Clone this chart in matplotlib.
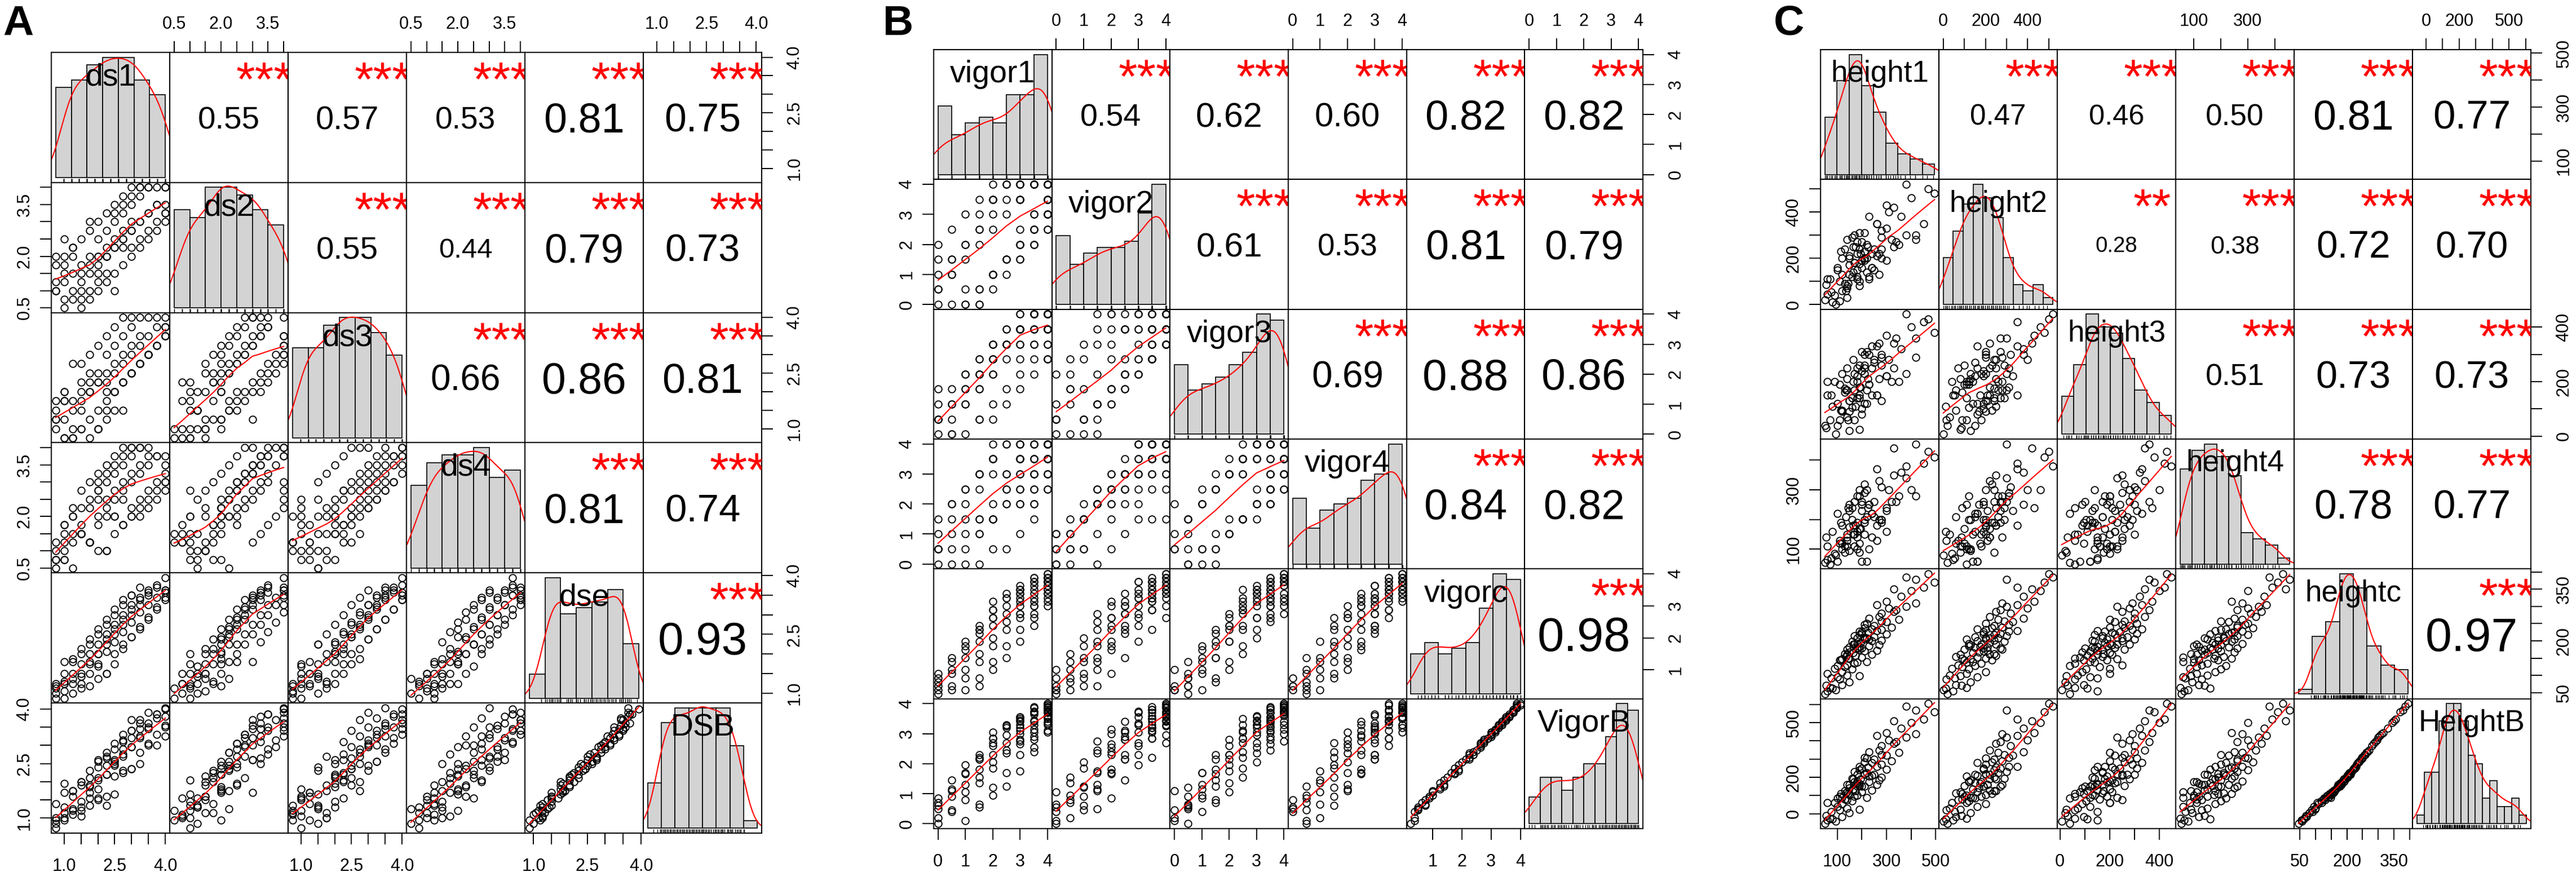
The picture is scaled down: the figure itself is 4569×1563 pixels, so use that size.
import numpy as np
import matplotlib
matplotlib.use("Agg")
import matplotlib.pyplot as plt
from matplotlib.transforms import offset_copy

plt.rcParams['font.family'] = ['Liberation Sans', 'DejaVu Sans']

# ---------------- panel A : disease scores ----------------
a_names = ['ds1', 'ds2', 'ds3', 'ds4', 'dse', 'DSB']
ds1 = [0.75, 1.0, 0.75, 1.25, 0.75, 1.0, 1.5, 0.75,
       1.0, 1.5, 0.75, 1.25, 2.0, 1.0, 1.25, 1.75,
       1.5, 1.0, 2.25, 1.25, 1.75, 1.0, 2.0, 1.5,
       1.75, 2.5, 1.25, 1.5, 2.0, 1.0, 2.25, 1.75,
       2.0, 1.5, 2.5, 1.25, 2.75, 2.0, 1.75, 2.25,
       2.25, 1.75, 2.75, 2.0, 3.0, 1.5, 2.5, 2.25,
       2.5, 2.0, 3.0, 2.25, 3.25, 1.75, 2.75, 2.5,
       2.75, 2.25, 3.25, 2.5, 3.5, 2.0, 3.0, 2.75,
       3.0, 2.5, 3.5, 2.75, 3.75, 2.25, 3.25, 3.0,
       3.25, 2.75, 3.75, 3.0, 4.0, 2.5, 3.5, 3.25,
       3.5, 3.0, 4.0, 3.25, 4.0, 2.75, 3.75, 3.5,
       3.75, 3.25, 4.0, 3.5, 4.0, 3.0, 4.0, 3.75]
ds2 = [1.0, 0.5, 1.25, 0.75, 1.0, 1.5, 0.5, 2.0,
       1.25, 0.75, 1.75, 1.0, 1.5, 0.75, 2.25, 1.0,
       1.0, 2.0, 1.25, 1.5, 0.75, 1.75, 2.0, 1.25,
       1.5, 1.0, 2.25, 1.75, 1.25, 2.5, 1.5, 2.0,
       1.75, 2.5, 1.5, 2.0, 2.25, 1.0, 3.0, 2.0,
       2.0, 2.75, 1.75, 2.5, 2.25, 1.5, 3.25, 2.0,
       2.25, 3.0, 2.0, 2.75, 2.5, 1.75, 3.5, 2.25,
       2.5, 3.25, 2.25, 3.0, 2.75, 2.0, 3.75, 2.5,
       2.75, 3.5, 2.5, 3.25, 3.0, 2.25, 4.0, 2.75,
       3.0, 3.75, 2.75, 3.5, 3.25, 2.5, 4.0, 3.0,
       3.25, 4.0, 3.0, 3.75, 3.5, 2.75, 4.0, 3.25,
       3.5, 4.0, 3.25, 4.0, 4.0, 3.0, 4.0, 3.5]
ds3 = [1.0, 0.75, 1.5, 0.75, 1.75, 0.75, 1.0, 1.25,
       2.0, 1.0, 1.25, 0.75, 1.0, 1.75, 1.5, 0.75,
       2.0, 1.25, 1.5, 1.0, 2.25, 1.75, 1.0, 1.5,
       2.5, 1.5, 1.75, 2.25, 1.0, 2.0, 1.25, 2.0,
       2.5, 1.75, 2.0, 2.75, 1.5, 2.25, 1.25, 2.0,
       3.0, 2.0, 2.25, 1.5, 2.5, 2.75, 2.0, 2.25,
       3.25, 2.25, 2.5, 1.75, 2.75, 3.0, 2.25, 2.5,
       3.5, 2.5, 2.75, 2.0, 3.0, 3.25, 2.5, 2.75,
       3.75, 2.75, 3.0, 2.25, 3.25, 3.5, 2.75, 3.0,
       4.0, 3.0, 3.25, 2.5, 3.5, 3.75, 3.0, 3.25,
       4.0, 3.25, 3.5, 2.75, 3.75, 4.0, 3.25, 3.5,
       4.0, 3.5, 3.75, 3.0, 4.0, 4.0, 3.5, 3.75]
ds4 = [0.75, 1.25, 0.5, 1.25, 1.0, 1.0, 1.5, 0.75,
       0.75, 1.75, 1.25, 2.0, 1.0, 1.5, 0.5, 1.25,
       1.5, 1.75, 1.0, 2.25, 1.25, 0.75, 2.0, 1.5,
       1.25, 2.0, 2.0, 1.5, 2.5, 1.75, 1.0, 2.25,
       1.75, 2.25, 2.0, 1.5, 2.5, 2.75, 1.25, 2.0,
       2.25, 2.5, 1.75, 3.0, 2.0, 2.75, 1.5, 2.5,
       2.5, 2.75, 2.25, 3.25, 2.0, 3.0, 1.75, 2.75,
       2.75, 3.0, 2.5, 3.5, 2.25, 3.25, 2.0, 3.0,
       3.0, 3.25, 2.75, 3.75, 2.5, 3.5, 2.25, 3.25,
       3.25, 3.5, 3.0, 4.0, 2.75, 3.75, 2.5, 3.5,
       3.5, 3.75, 3.25, 4.0, 3.0, 4.0, 2.75, 3.75,
       3.75, 4.0, 3.5, 4.0, 3.75, 4.0, 3.0, 3.75]
dse = [0.88, 0.88, 1.0, 1.0, 1.13, 1.06, 1.13, 1.19,
       1.25, 1.25, 1.25, 1.25, 1.38, 1.25, 1.38, 1.19,
       1.5, 1.5, 1.5, 1.5, 1.5, 1.31, 1.75, 1.44,
       1.75, 1.75, 1.81, 1.75, 1.69, 1.81, 1.5, 2.0,
       2.0, 2.0, 2.0, 1.88, 2.25, 2.0, 1.81, 2.06,
       2.38, 2.25, 2.13, 2.25, 2.44, 2.13, 2.31, 2.25,
       2.63, 2.5, 2.44, 2.5, 2.63, 2.38, 2.56, 2.5,
       2.88, 2.75, 2.69, 2.75, 2.88, 2.63, 2.81, 2.75,
       3.13, 3.0, 2.94, 3.0, 3.13, 2.88, 3.06, 3.0,
       3.38, 3.25, 3.19, 3.25, 3.38, 3.13, 3.25, 3.25,
       3.56, 3.5, 3.44, 3.44, 3.56, 3.38, 3.44, 3.5,
       3.75, 3.69, 3.63, 3.63, 3.94, 3.5, 3.63, 3.69]
dsb = [0.72, 0.95, 0.85, 1.1, 1.0, 1.15, 1.2, 0.95,
       1.3, 1.05, 1.4, 1.2, 1.5, 1.0, 1.25, 1.35,
       1.45, 1.7, 1.35, 1.6, 1.55, 1.15, 1.8, 1.3,
       1.9, 1.65, 1.75, 2.0, 1.55, 1.95, 1.6, 1.85,
       2.1, 1.9, 2.15, 1.75, 2.3, 2.05, 1.7, 2.2,
       2.45, 2.1, 2.25, 2.4, 2.35, 2.0, 2.5, 2.2,
       2.55, 2.6, 2.35, 2.7, 2.5, 2.3, 2.75, 2.45,
       2.9, 2.65, 2.8, 2.6, 3.0, 2.55, 2.95, 2.7,
       3.2, 2.9, 3.05, 3.1, 3.0, 2.8, 3.25, 2.95,
       3.45, 3.15, 3.3, 3.4, 3.25, 3.05, 3.5, 3.2,
       3.6, 3.4, 3.55, 3.7, 3.5, 3.3, 3.75, 3.45,
       3.85, 3.6, 3.8, 3.9, 4.0, 3.7, 4.03, 3.85]
a_cor = [[0.55, 0.57, 0.53, 0.81, 0.75], [0.55, 0.44, 0.79, 0.73],
         [0.66, 0.86, 0.81], [0.81, 0.74], [0.93]]
a_star = [['***'] * 5, ['***'] * 4, ['***'] * 3, ['***'] * 2, ['***']]
a_ticks = [[1.0, 1.5, 2.0, 2.5, 3.0, 3.5, 4.0],
           [0.5, 1.0, 1.5, 2.0, 2.5, 3.0, 3.5, 4.0],
           [1.0, 1.5, 2.0, 2.5, 3.0, 3.5, 4.0],
           [0.5, 1.0, 1.5, 2.0, 2.5, 3.0, 3.5, 4.0],
           [1.0, 1.5, 2.0, 2.5, 3.0, 3.5, 4.0],
           [1.0, 1.5, 2.0, 2.5, 3.0, 3.5, 4.0]]
a_tlab = [['1.0', '', '', '2.5', '', '', '4.0'],
          ['0.5', '', '', '2.0', '', '', '3.5', ''],
          ['1.0', '', '', '2.5', '', '', '4.0'],
          ['0.5', '', '', '2.0', '', '', '3.5', ''],
          ['1.0', '', '', '2.5', '', '', '4.0'],
          ['1.0', '', '', '2.5', '', '', '4.0']]
a_bins = [[0.5, 1.0, 1.5, 2.0, 2.5, 3.0, 3.5, 4.0]] * 5 + \
         [[0.5, 1.0, 1.5, 2.0, 2.5, 3.0, 3.5, 4.0, 4.5]]

# ---------------- panel B : vigor ----------------
b_names = ['vigor1', 'vigor2', 'vigor3', 'vigor4', 'vigorc', 'VigorB']
vigor1 = [0, 0.5, 0, 1.0, 0, 0.5, 1.5, 0,
          0.5, 1.0, 0, 1.5, 0.5, 2.0, 1.0, 0,
          1.0, 1.5, 0.5, 2.0, 1.0, 2.5, 1.5, 0.5,
          1.5, 2.0, 1.0, 2.5, 1.5, 3.0, 2.0, 1.0,
          2.0, 2.5, 1.5, 3.0, 2.0, 3.5, 2.5, 1.5,
          2.5, 3.0, 2.0, 3.5, 2.0, 3.5, 3.0, 1.5,
          3.0, 3.0, 2.5, 4.0, 2.5, 3.5, 3.0, 2.0,
          3.0, 3.5, 2.5, 4.0, 3.0, 4.0, 3.5, 2.0,
          3.5, 3.5, 3.0, 4.0, 3.0, 4.0, 3.5, 2.5,
          3.5, 4.0, 3.0, 4.0, 3.5, 4.0, 4.0, 3.0,
          4.0, 4.0, 3.5, 4.0, 3.5, 4.0, 4.0, 3.0,
          4.0, 4.0, 4.0, 3.5, 4.0, 4.0, 4.0, 4.0]
vigor2 = [0.5, 0, 1.5, 0, 0, 1.0, 0, 0.5,
          1.0, 0.5, 2.0, 0, 1.5, 0.5, 0, 1.0,
          1.5, 0.5, 2.5, 1.0, 2.0, 1.0, 0.5, 1.5,
          2.0, 1.0, 3.0, 1.5, 2.5, 1.5, 1.0, 2.0,
          2.5, 1.5, 3.5, 2.0, 3.0, 2.0, 1.5, 2.5,
          3.0, 2.0, 4.0, 2.5, 3.5, 2.0, 1.5, 3.0,
          3.5, 2.5, 4.0, 2.5, 3.5, 2.5, 2.0, 3.5,
          3.5, 3.0, 4.0, 3.0, 4.0, 2.5, 2.0, 3.5,
          4.0, 3.0, 3.5, 3.5, 4.0, 3.0, 2.5, 4.0,
          4.0, 3.5, 4.0, 3.0, 4.0, 3.5, 3.0, 3.5,
          4.0, 3.5, 4.0, 3.5, 4.0, 4.0, 3.0, 4.0,
          4.0, 4.0, 3.5, 4.0, 4.0, 4.0, 3.5, 4.0]
vigor3 = [0, 1.0, 0.5, 0, 0.5, 0, 0.5, 1.5,
          0.5, 1.5, 1.0, 0.5, 0, 1.0, 2.0, 0.5,
          1.0, 2.0, 1.5, 0.5, 1.0, 1.5, 2.5, 1.0,
          1.5, 2.5, 2.0, 1.0, 1.5, 2.0, 3.0, 1.5,
          2.0, 3.0, 2.5, 1.5, 2.0, 2.5, 3.5, 2.0,
          2.5, 3.5, 3.0, 2.0, 2.5, 3.0, 4.0, 2.0,
          2.5, 3.5, 3.0, 2.5, 3.0, 3.5, 4.0, 2.5,
          3.0, 3.5, 3.5, 2.5, 3.0, 3.5, 4.0, 3.0,
          3.0, 4.0, 3.5, 2.5, 3.5, 3.5, 4.0, 3.0,
          3.5, 4.0, 3.5, 3.0, 4.0, 3.5, 4.0, 3.5,
          3.5, 4.0, 4.0, 3.5, 4.0, 3.0, 4.0, 3.5,
          4.0, 4.0, 4.0, 4.0, 3.5, 4.0, 3.5, 4.0]
vigor4 = [1.0, 0, 0, 0.5, 0.5, 0.5, 0, 0.5,
          1.5, 0, 0.5, 1.0, 2.0, 0.5, 1.0, 1.5,
          2.0, 1.0, 1.0, 1.5, 2.5, 0.5, 1.5, 2.0,
          2.5, 1.5, 1.5, 2.0, 3.0, 1.0, 2.0, 2.5,
          3.0, 2.0, 1.5, 2.5, 3.5, 1.5, 2.5, 3.0,
          3.0, 2.0, 1.5, 3.0, 3.5, 2.0, 2.5, 3.0,
          3.5, 2.0, 2.5, 3.0, 4.0, 2.5, 3.0, 3.5,
          4.0, 2.0, 3.0, 3.5, 3.5, 2.5, 3.0, 4.0,
          3.5, 2.5, 3.0, 4.0, 3.5, 3.0, 3.5, 4.0,
          4.0, 3.0, 3.5, 4.0, 3.5, 2.5, 4.0, 4.0,
          4.0, 3.5, 3.0, 4.0, 4.0, 3.5, 4.0, 4.0,
          4.0, 3.5, 4.0, 4.0, 4.0, 4.0, 4.0, 3.5]
vigorc = [0.38, 0.38, 0.5, 0.38, 0.25, 0.5, 0.5, 0.63,
          0.88, 0.75, 0.88, 0.75, 1.0, 1.0, 1.0, 0.75,
          1.38, 1.25, 1.38, 1.25, 1.63, 1.38, 1.5, 1.25,
          1.88, 1.75, 1.88, 1.75, 2.13, 1.88, 2.0, 1.75,
          2.38, 2.25, 2.25, 2.25, 2.63, 2.38, 2.5, 2.25,
          2.75, 2.63, 2.63, 2.75, 2.88, 2.63, 2.75, 2.38,
          3.13, 2.75, 3.0, 3.0, 3.25, 3.0, 3.0, 2.88,
          3.38, 3.0, 3.25, 3.25, 3.38, 3.13, 3.13, 3.13,
          3.5, 3.25, 3.25, 3.5, 3.5, 3.38, 3.38, 3.38,
          3.75, 3.63, 3.5, 3.5, 3.75, 3.38, 3.75, 3.5,
          3.88, 3.75, 3.63, 3.75, 3.88, 3.63, 3.75, 3.63,
          4.0, 3.88, 3.88, 3.88, 3.88, 4.0, 3.75, 3.88]
vigorb = [0.2, 0.4, 0.5, 0.1, 0.0, 0.45, 0.55, 0.7,
          0.9, 0.8, 0.85, 0.65, 1.1, 0.95, 1.05, 0.6,
          1.3, 1.35, 1.45, 1.2, 1.7, 1.25, 1.55, 1.15,
          1.8, 1.85, 1.95, 1.7, 2.15, 1.75, 2.05, 1.65,
          2.3, 2.35, 2.2, 2.3, 2.6, 2.4, 2.45, 2.15,
          2.7, 2.65, 2.7, 2.8, 2.85, 2.55, 2.75, 2.3,
          3.1, 2.8, 2.95, 3.05, 3.2, 2.9, 3.0, 2.85,
          3.3, 3.05, 3.25, 3.3, 3.4, 3.1, 3.15, 3.05,
          3.45, 3.3, 3.2, 3.5, 3.55, 3.35, 3.4, 3.3,
          3.7, 3.6, 3.45, 3.55, 3.75, 3.4, 3.7, 3.5,
          3.85, 3.8, 3.65, 3.7, 3.9, 3.6, 3.75, 3.55,
          4.0, 3.95, 3.9, 3.85, 3.9, 3.95, 3.8, 4.0]
b_cor = [[0.54, 0.62, 0.60, 0.82, 0.82], [0.61, 0.53, 0.81, 0.79],
         [0.69, 0.88, 0.86], [0.84, 0.82], [0.98]]
b_star = [['***'] * 5, ['***'] * 4, ['***'] * 3, ['***'] * 2, ['***']]
b_ticks = [[0, 1, 2, 3, 4]] * 4 + [[1, 2, 3, 4], [0, 1, 2, 3, 4]]
b_tlab = [['0', '1', '2', '3', '4']] * 4 + [['1', '2', '3', '4'], ['0', '1', '2', '3', '4']]
b_bins = [[0, 0.5, 1.0, 1.5, 2.0, 2.5, 3.0, 3.5, 4.0]] * 5 + \
         [[0, 0.4, 0.8, 1.2, 1.6, 2.0, 2.4, 2.8, 3.2, 3.6, 4.0]]

# ---------------- panel C : height ----------------
c_names = ['height1', 'height2', 'height3', 'height4', 'heightc', 'HeightB']
height1 = [50, 95, 70, 120, 60, 150, 80, 55,
           100, 140, 60, 190, 120, 75, 110, 160,
           130, 170, 90, 220, 115, 140, 100, 180,
           150, 110, 200, 135, 240, 120, 175, 145,
           165, 210, 130, 190, 150, 260, 140, 180,
           180, 150, 230, 165, 200, 140, 270, 190,
           195, 240, 160, 210, 180, 280, 170, 220,
           210, 170, 250, 190, 300, 200, 230, 180,
           225, 280, 190, 240, 320, 210, 260, 200,
           250, 300, 220, 280, 350, 230, 270, 210,
           280, 340, 310, 380, 260, 420, 300, 330,
           360, 400, 450, 330, 495, 380, 420, 470]
height2 = [20, 0, 110, 60, 45, 130, 10, 85,
           160, 30, 110, 80, 200, 55, 15, 120,
           90, 180, 40, 140, 230, 70, 150, 110,
           200, 100, 160, 60, 220, 130, 250, 90,
           140, 190, 240, 100, 170, 210, 80, 270,
           150, 210, 120, 250, 190, 280, 130, 175,
           220, 160, 290, 200, 120, 240, 180, 260,
           200, 300, 150, 240, 190, 270, 110, 220,
           250, 200, 310, 160, 280, 230, 350, 190,
           240, 330, 200, 290, 260, 380, 220, 310,
           320, 270, 400, 300, 350, 280, 430, 250,
           380, 460, 350, 420, 480, 520, 300, 500]
height3 = [40, 7, 60, 95, 150, 20, 110, 30,
           120, 70, 200, 25, 90, 150, 60, 105,
           160, 60, 200, 120, 95, 250, 40, 140,
           130, 190, 80, 170, 150, 230, 110, 60,
           200, 120, 175, 260, 90, 150, 210, 140,
           220, 130, 190, 280, 100, 170, 210, 150,
           180, 250, 140, 300, 200, 130, 230, 170,
           230, 170, 270, 140, 220, 310, 190, 250,
           210, 290, 180, 330, 200, 260, 150, 240,
           280, 220, 310, 260, 200, 300, 340, 250,
           300, 360, 280, 230, 330, 290, 370, 250,
           320, 400, 420, 340, 380, 448, 360, 430]
height4 = [55, 80, 50, 120, 65, 95, 160, 140,
           60, 150, 110, 90, 180, 70, 130, 200,
           110, 150, 85, 60, 190, 130, 220, 100,
           175, 120, 60, 210, 140, 100, 180, 240,
           150, 200, 90, 170, 250, 130, 110, 190,
           160, 230, 100, 180, 260, 140, 200, 120,
           170, 220, 240, 150, 280, 190, 110, 210,
           190, 260, 210, 300, 160, 230, 250, 140,
           240, 200, 280, 220, 260, 320, 180, 250,
           260, 230, 300, 200, 280, 250, 330, 290,
           310, 260, 300, 340, 370, 280, 240, 350,
           360, 300, 390, 440, 410, 380, 455, 430]
heightc = [46, 58, 65, 72, 55, 80, 62, 70,
           95, 100, 105, 98, 110, 92, 88, 118,
           125, 135, 120, 140, 145, 130, 128, 138,
           150, 145, 152, 155, 160, 148, 158, 150,
           165, 170, 162, 175, 168, 172, 160, 178,
           180, 182, 185, 190, 178, 176, 188, 183,
           195, 200, 198, 205, 192, 202, 190, 208,
           210, 215, 212, 218, 220, 222, 205, 208,
           225, 232, 228, 235, 240, 238, 230, 226,
           245, 255, 250, 258, 262, 265, 270, 248,
           280, 290, 295, 300, 305, 310, 315, 285,
           330, 345, 355, 350, 370, 385, 378, 395]
heightb = [-55, -40, -25, -15, -35, 5, -30, -10,
           40, 30, 60, 25, 55, 10, 20, 70,
           80, 95, 60, 90, 110, 75, 85, 100,
           105, 95, 120, 115, 130, 90, 125, 110,
           135, 150, 125, 155, 140, 160, 120, 150,
           170, 160, 175, 190, 150, 160, 185, 165,
           190, 210, 195, 215, 180, 200, 175, 225,
           220, 230, 215, 240, 245, 250, 205, 215,
           255, 270, 260, 280, 290, 285, 260, 250,
           300, 320, 305, 325, 335, 340, 350, 310,
           375, 395, 405, 420, 430, 440, 445, 385,
           470, 500, 520, 510, 560, 590, 570, 605]
c_cor = [[0.47, 0.46, 0.50, 0.81, 0.77], [0.28, 0.38, 0.72, 0.70],
         [0.51, 0.73, 0.73], [0.78, 0.77], [0.97]]
c_star = [['***'] * 5, ['**', '***', '***', '***'], ['***'] * 3, ['***'] * 2, ['***']]
c_ticks = [[100, 200, 300, 400, 500],
           [0, 100, 200, 300, 400, 500],
           [0, 100, 200, 300, 400],
           [100, 200, 300, 400],
           [50, 100, 150, 200, 250, 300, 350, 400],
           [0, 100, 200, 300, 400, 500, 600]]
c_tlab = [['100', '', '300', '', '500'],
          ['0', '', '200', '', '400', ''],
          ['0', '', '200', '', '400'],
          ['100', '', '300', ''],
          ['50', '', '', '200', '', '', '350', ''],
          ['0', '', '200', '', '', '500', '']]
c_bins = [[50, 100, 150, 200, 250, 300, 350, 400, 450, 500],
          [0, 50, 100, 150, 200, 250, 300, 350, 400, 450, 500, 550],
          [0, 50, 100, 150, 200, 250, 300, 350, 400, 450],
          [50, 100, 150, 200, 250, 300, 350, 400, 450, 500],
          [0, 50, 100, 150, 200, 250, 300, 350, 400],
          [-100, -50, 0, 50, 100, 150, 200, 250, 300, 350, 400, 450, 500, 550, 600, 650]]

W, H, DPI = 4569, 1563, 100
PT = 72.0 / DPI
fig = plt.figure(figsize=(W / DPI, H / DPI), dpi=DPI)
fig.patch.set_facecolor('white')


def lowess(x, y, f=2 / 3, steps=3):
    x = np.asarray(x, float)
    y = np.asarray(y, float)
    o = np.argsort(x, kind='mergesort')
    x, y = x[o], y[o]
    n = len(x)
    ns = max(min(int(f * n + 1e-7), n), 2)
    rob = np.ones(n)
    fit = np.zeros(n)
    for it in range(steps + 1):
        for i in range(n):
            d = np.abs(x - x[i])
            h = np.sort(d)[ns - 1]
            if h <= 0:
                w = (d == 0).astype(float)
            else:
                u = d / h
                w = np.where(u < 1, (1 - u ** 3) ** 3, 0.0)
            w = w * rob
            sw = w.sum()
            if sw <= 0:
                fit[i] = y[i]
                continue
            xm = (w * x).sum() / sw
            ym = (w * y).sum() / sw
            sxx = (w * (x - xm) ** 2).sum()
            b = (w * (x - xm) * (y - ym)).sum() / sxx if sxx > 1e-10 else 0.0
            fit[i] = ym + b * (x[i] - xm)
        res = y - fit
        m = np.median(np.abs(res))
        if m < 1e-7 * (np.mean(np.abs(y)) + 1e-9):
            break
        u = res / (6 * m)
        rob = np.where(np.abs(u) < 1, (1 - u ** 2) ** 2, 0.0)
    return x, fit


def kde(x):
    x = np.asarray(x, float)
    n = len(x)
    sd = x.std(ddof=1)
    q75, q25 = np.percentile(x, [75, 25])
    lo = min(sd, (q75 - q25) / 1.34)
    if lo <= 0:
        lo = sd
    bw = 0.9 * lo * n ** -0.2
    g = np.linspace(x.min() - 3 * bw, x.max() + 3 * bw, 512)
    d = np.exp(-0.5 * ((g[:, None] - x[None, :]) / bw) ** 2).sum(1) / (n * bw * np.sqrt(2 * np.pi))
    return g, d


def rhist(x, edges):
    x = np.asarray(x, float)
    e = np.asarray(edges, float)
    idx = np.clip(np.searchsorted(e, x, side='left') - 1, 0, len(e) - 2)
    counts = np.bincount(idx, minlength=len(e) - 1)
    return counts / (len(x) * np.diff(e))


def baseline_text(ax, x, y, s, size, **kw):
    tr = offset_copy(ax.transAxes, fig=fig, y=-0.358 * size, units='points')
    ax.text(x, y, s, fontsize=size, ha='center', va='baseline', transform=tr, **kw)


def pairs_panel(cols, names, ticks, tlabs, bins, cors, stars, box, lab_px):
    left, top, right, bottom = box
    n = len(cols)
    cw = (right - left) / n
    ch = (bottom - top) / n
    lims = []
    for c in cols:
        lo, hi = min(c), max(c)
        lims.append((lo - 0.04 * (hi - lo), hi + 0.04 * (hi - lo)))
    base_px = 0.8 * cw / 1.946
    tick_kw = dict(length=14.4, width=1.4, labelsize=22, direction='out', colors='black')
    for i in range(n):
        for j in range(n):
            ax = fig.add_axes([(left + j * cw) / W, 1 - (top + (i + 1) * ch) / H, cw / W, ch / H])
            for s in ax.spines.values():
                s.set_linewidth(1.5)
            ax.tick_params(which='both', bottom=False, top=False, left=False, right=False,
                           labelbottom=False, labeltop=False, labelleft=False, labelright=False)
            if i == j:
                x = cols[i]
                e = bins[i]
                dens = rhist(x, e)
                ax.bar(e[:-1], dens, width=np.diff(e), align='edge', color='#D3D3D3',
                       edgecolor='black', linewidth=1.2)
                gx, gy = kde(x)
                ax.plot(gx, gy, color='red', lw=1.5)
                span = e[-1] - e[0]
                ymax = dens.max()
                ax.set_xlim(e[0] - 0.04 * span, e[-1] + 0.04 * span)
                ax.set_ylim(-0.04 * ymax, 1.04 * ymax)
                y0 = -0.04 * ymax
                ax.vlines(x, y0, y0 + 0.03 * 1.08 * ymax, color='black', lw=0.9)
                baseline_text(ax, 0.5, 0.833, names[i], lab_px * PT)
            elif i > j:
                x, y = cols[j], cols[i]
                ax.plot(x, y, 'o', ms=9, mfc='none', mec='black', mew=1.35)
                sx, sy = lowess(x, y)
                ax.plot(sx, sy, color='red', lw=1.5)
                ax.set_xlim(lims[j])
                ax.set_ylim(lims[i])
            else:
                ax.set_xlim(lims[j])
                ax.set_ylim(lims[i])
                r = cors[i][j - i - 1]
                size = base_px * (abs(r) + 0.3) / 1.3 * PT
                baseline_text(ax, 0.5, 0.5, '%.2f' % r, size)
                baseline_text(ax, 0.8, 0.8, stars[i][j - i - 1], base_px * PT,
                              color='red', clip_on=True)
            if i == 0 and j % 2 == 1:
                ax.set_xticks(ticks[j])
                ax.set_xticklabels(tlabs[j])
                ax.tick_params(axis='x', top=True, labeltop=True, pad=10.5, **tick_kw)
            if i == n - 1 and j % 2 == 0:
                ax.set_xticks(ticks[j])
                ax.set_xticklabels(tlabs[j])
                ax.tick_params(axis='x', bottom=True, labelbottom=True, pad=17, **tick_kw)
            if j == 0 and i % 2 == 1:
                ax.set_yticks(ticks[i])
                ax.set_yticklabels(tlabs[i], rotation=90, va='center')
                ax.tick_params(axis='y', left=True, labelleft=True, pad=9, **tick_kw)
            if j == n - 1 and i % 2 == 0:
                ax.set_yticks(ticks[i])
                ax.set_yticklabels(tlabs[i], rotation=90, va='center')
                ax.tick_params(axis='y', right=True, labelright=True, pad=17, **tick_kw)
            if i != j and not ((i == 0 and j % 2 == 1) or (i == n - 1 and j % 2 == 0)):
                ax.set_xticks([])
            if i != j and not ((j == 0 and i % 2 == 1) or (j == n - 1 and i % 2 == 0)):
                ax.set_yticks([])
            if i == j:
                ax.set_xticks([])
                ax.set_yticks([])


pairs_panel([ds1, ds2, ds3, ds4, dse, dsb], a_names, a_ticks, a_tlab, a_bins,
            a_cor, a_star, (91, 93, 1351, 1478), 55.5)
pairs_panel([vigor1, vigor2, vigor3, vigor4, vigorc, vigorb], b_names, b_ticks, b_tlab, b_bins,
            b_cor, b_star, (1656, 88, 2914, 1470), 55.5)
pairs_panel([height1, height2, height3, height4, heightc, heightb], c_names, c_ticks, c_tlab, c_bins,
            c_cor, c_star, (3229, 88, 4489, 1470), 53)

for letter, lx in [('A', 5), ('B', 1566), ('C', 3146)]:
    fig.text(lx / W, 1 - 62 / H, letter, fontsize=54, fontweight='bold', ha='left', va='baseline')

fig.savefig('out.png', dpi=DPI, facecolor='white')
